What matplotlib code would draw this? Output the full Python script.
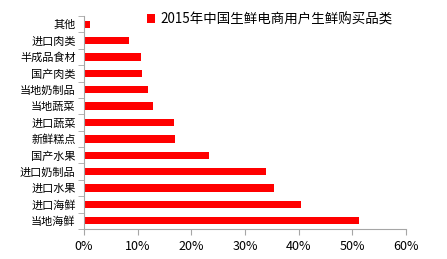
import numpy as np
import matplotlib.pyplot as plt
from matplotlib.ticker import PercentFormatter

plt.rcParams['font.family'] = ['Noto Sans CJK SC', 'DejaVu Sans']

# categories listed bottom -> top
categories = ['当地海鲜', '进口海鲜', '进口水果', '进口奶制品', '国产水果', '新鲜糕点',
              '进口蔬菜', '当地蔬菜', '当地奶制品', '国产肉类', '半成品食材', '进口肉类', '其他']
values = [51.2, 40.4, 35.4, 34.0, 23.3, 17.0, 16.8, 12.8, 12.0, 10.8, 10.6, 8.4, 1.1]
series_name = '2015年中国生鲜电商用户生鲜购买品类'

fig = plt.figure(figsize=(4.47, 2.59), dpi=100)
ax = fig.add_axes([84/447, 1 - 229/259, (406 - 84)/447, (229 - 16)/259])

y = np.arange(len(categories))
bars = ax.barh(y, values, height=0.45, color='#ff0000', label=series_name)

ax.set_xlim(0, 60)
ax.set_ylim(-0.5, len(categories) - 0.5)
ax.set_xticks(np.arange(0, 61, 10))
ax.xaxis.set_major_formatter(PercentFormatter(decimals=0))

ax.set_yticks(y)
ax.set_yticklabels(categories)
ax.set_yticks(np.arange(-0.5, len(categories), 1), minor=True)
ax.tick_params(axis='y', which='major', length=0, pad=6, labelsize=8)
ax.tick_params(axis='y', which='minor', length=4, color='#a6a6a6', direction='out')
ax.tick_params(axis='x', length=4, color='#a6a6a6', labelsize=9, pad=4)

for s in ['top', 'right']:
    ax.spines[s].set_visible(False)
for s in ['left', 'bottom']:
    ax.spines[s].set_color('#a6a6a6')

fig.legend(handles=[bars], loc='upper left', bbox_to_anchor=(142/447, 1 - 7/259),
           frameon=False, fontsize=9.7, handlelength=0.6, handleheight=0.6,
           handletextpad=0.35, borderaxespad=0)

fig.savefig('out.png', dpi=100)
